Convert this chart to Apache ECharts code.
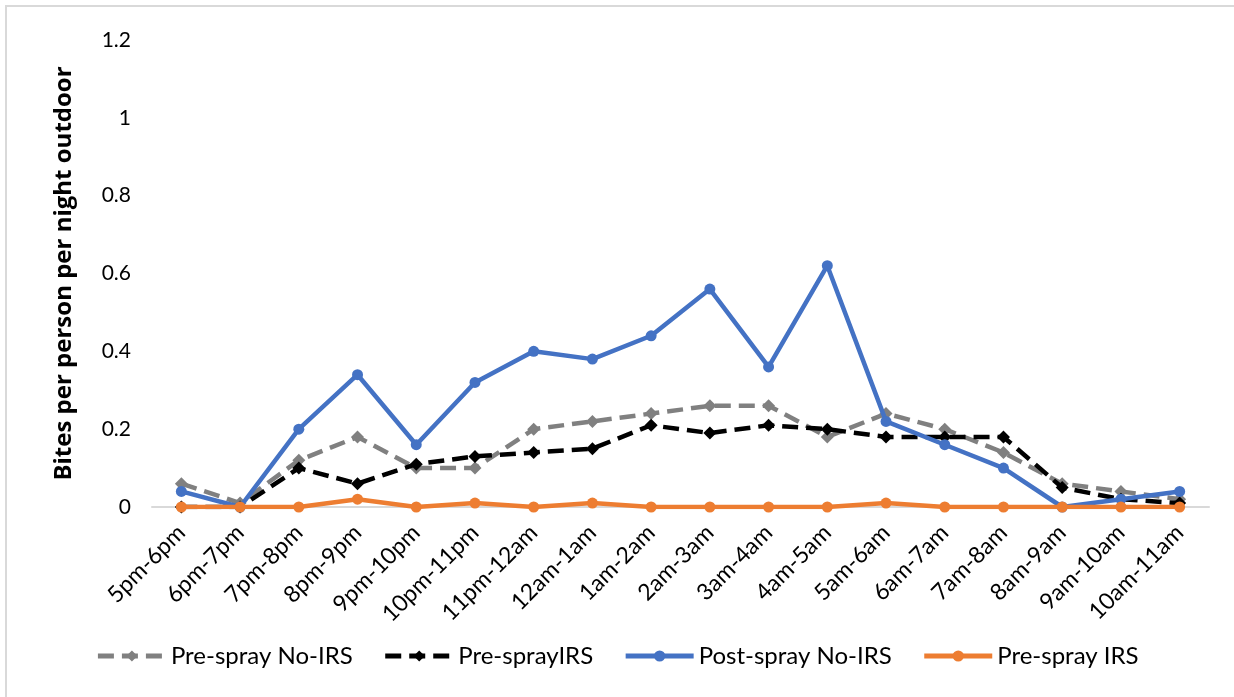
<!DOCTYPE html>
<html>
<head>
<meta charset="utf-8">
<script src="https://cdn.jsdelivr.net/npm/echarts@6/dist/echarts.min.js"></script>
<style>
  html, body { margin: 0; padding: 0; background: #fff; }
  #frame { position: absolute; left: 5px; top: 5px; width: 1229px; height: 692px;
           border-left: 2px solid #d9d9d9; border-top: 2px solid #d9d9d9; box-sizing: border-box; }
  #main { position: absolute; left: 0; top: 0; width: 1234px; height: 697px; }
</style>
</head>
<body>
<div id="frame"></div>
<div id="main"></div>
<script>
// time slots
var categories = ['5pm-6pm', '6pm-7pm', '7pm-8pm', '8pm-9pm', '9pm-10pm', '10pm-11pm', '11pm-12am',
  '12am-1am', '1am-2am', '2am-3am', '3am-4am', '4am-5am', '5am-6am', '6am-7am', '7am-8am',
  '8am-9am', '9am-10am', '10am-11am'];

// bites per person per night outdoor
var preSprayNoIRS = [0.06, 0.01, 0.12, 0.18, 0.10, 0.10, 0.20, 0.22, 0.24, 0.26, 0.26, 0.18, 0.24, 0.20, 0.14, 0.06, 0.04, 0.02];
var preSprayIRSBlack = [0, 0, 0.10, 0.06, 0.11, 0.13, 0.14, 0.15, 0.21, 0.19, 0.21, 0.20, 0.18, 0.18, 0.18, 0.05, 0.02, 0.01];
var postSprayNoIRS = [0.04, 0, 0.20, 0.34, 0.16, 0.32, 0.40, 0.38, 0.44, 0.56, 0.36, 0.62, 0.22, 0.16, 0.10, 0, 0.02, 0.04];
var preSprayIRS = [0, 0, 0, 0.02, 0, 0.01, 0, 0.01, 0, 0, 0, 0, 0.01, 0, 0, 0, 0, 0];

var yTicks = [0, 0.2, 0.4, 0.6, 0.8, 1, 1.2];

var font = 'Lato, "Open Sans", sans-serif';

var chart = echarts.init(document.getElementById('main'));
chart.setOption({
  animation: false,
  textStyle: { fontFamily: font },
  grid: { left: 152, right: 25, top: 40, bottom: 190 },
  legend: {
    bottom: 24,
    left: 'center',
    itemWidth: 68,
    itemHeight: 14,
    itemGap: 30,
    lineStyle: { width: 5 },
    textStyle: { fontSize: 24, color: '#000', fontFamily: font },
    data: ['Pre-spray No-IRS', 'Pre-sprayIRS', 'Post-spray No-IRS', 'Pre-spray IRS']
  },
  xAxis: {
    type: 'category',
    data: categories,
    boundaryGap: true,
    axisLine: { lineStyle: { color: '#d9d9d9', width: 2 } },
    axisTick: { show: false },
    axisLabel: { rotate: 45, fontSize: 23, color: '#000', interval: 0, margin: 22 }
  },
  yAxis: {
    type: 'value',
    min: yTicks[0],
    max: yTicks[yTicks.length - 1],
    interval: 0.2,
    name: 'Bites per person per night outdoor',
    nameLocation: 'middle',
    nameGap: 76,
    nameTextStyle: { fontSize: 24, fontWeight: 'bold', color: '#000', fontFamily: '"Open Sans", Lato, sans-serif' },
    axisLine: { show: false },
    axisTick: { show: false },
    splitLine: { show: false },
    axisLabel: { fontSize: 21, color: '#000', margin: 21 }
  },
  series: [
    {
      name: 'Pre-spray No-IRS',
      type: 'line',
      data: preSprayNoIRS,
      symbol: 'diamond',
      symbolSize: 13,
      itemStyle: { color: '#808080' },
      lineStyle: { color: '#808080', width: 4.5, type: [16, 8] },
      z: 2
    },
    {
      name: 'Pre-sprayIRS',
      type: 'line',
      data: preSprayIRSBlack,
      symbol: 'diamond',
      symbolSize: 13,
      itemStyle: { color: '#000' },
      lineStyle: { color: '#000', width: 4.5, type: [16, 8] },
      z: 3
    },
    {
      name: 'Post-spray No-IRS',
      type: 'line',
      data: postSprayNoIRS,
      symbol: 'circle',
      symbolSize: 11,
      itemStyle: { color: '#4472c4' },
      lineStyle: { color: '#4472c4', width: 4.5 },
      z: 4
    },
    {
      name: 'Pre-spray IRS',
      type: 'line',
      data: preSprayIRS,
      symbol: 'circle',
      symbolSize: 11,
      itemStyle: { color: '#ed7d31' },
      lineStyle: { color: '#ed7d31', width: 4.5 },
      z: 5
    }
  ]
});
</script>
</body>
</html>
